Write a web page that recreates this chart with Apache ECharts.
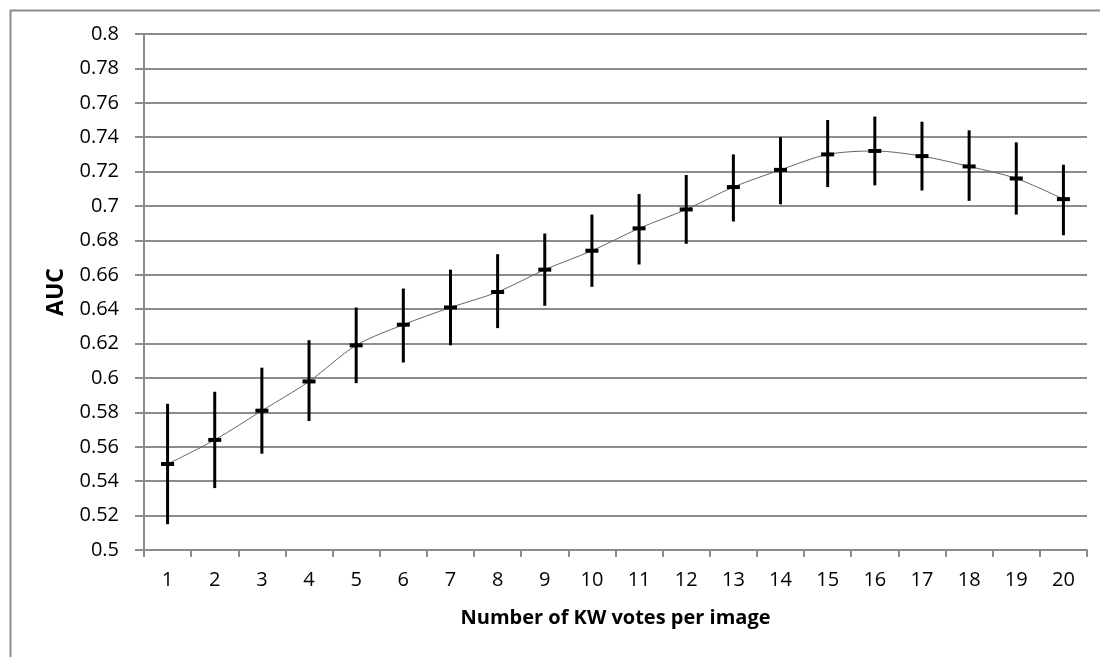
<!DOCTYPE html>
<html>
<head>
<meta charset="utf-8">
<script src="https://cdn.jsdelivr.net/npm/echarts@6/dist/echarts.min.js"></script>
<style>
  html, body { margin: 0; padding: 0; background: #fff; }
  #chart { width: 1100px; height: 657px; }
</style>
</head>
<body>
<div id="chart"></div>
<script>
// x categories
var votes = ['1','2','3','4','5','6','7','8','9','10','11','12','13','14','15','16','17','18','19','20'];
// mean AUC
var auc = [0.550,0.564,0.581,0.598,0.619,0.631,0.641,0.650,0.663,0.674,0.687,0.698,0.711,0.721,0.730,0.732,0.729,0.723,0.716,0.704];
// error bar ends
var aucLow = [0.515,0.536,0.556,0.575,0.597,0.609,0.619,0.629,0.642,0.653,0.666,0.678,0.691,0.701,0.711,0.712,0.709,0.703,0.695,0.683];
var aucHigh = [0.585,0.592,0.606,0.622,0.641,0.652,0.663,0.672,0.684,0.695,0.707,0.718,0.730,0.740,0.750,0.752,0.749,0.744,0.737,0.724];

var chart = echarts.init(document.getElementById('chart'));

var errData = votes.map(function (v, i) { return [i, aucLow[i], aucHigh[i]]; });

var font = 'Open Sans';

chart.setOption({
  animation: false,
  backgroundColor: '#fff',
  textStyle: { fontFamily: font },
  graphic: [{
    type: 'rect',
    left: 8, top: 8,
    shape: { width: 1200, height: 800 },
    style: { fill: 'none', stroke: '#8c8c8c', lineWidth: 2 },
    z: 0
  }],
  grid: { left: 144, right: 13, top: 34, bottom: 107 },
  xAxis: {
    type: 'category',
    data: votes,
    boundaryGap: true,
    name: 'Number of KW votes per image',
    nameLocation: 'middle',
    nameGap: 58,
    nameTextStyle: { fontFamily: font, fontSize: 20, fontWeight: 'bold', color: '#000' },
    axisLine: { lineStyle: { color: '#8c8c8c', width: 2 } },
    axisTick: { show: true, length: 7, lineStyle: { color: '#8c8c8c', width: 2 } },
    axisLabel: { fontFamily: font, fontSize: 20, color: '#000', margin: 20 },
    splitLine: { show: false }
  },
  yAxis: {
    type: 'value',
    min: 0.5, max: 0.8, interval: 0.02,
    name: 'AUC',
    nameLocation: 'middle',
    nameGap: 76,
    nameTextStyle: { fontFamily: font, fontSize: 23, fontWeight: 'bold', color: '#000' },
    axisLine: { show: true, lineStyle: { color: '#8c8c8c', width: 2 } },
    axisTick: { show: true, length: 9, lineStyle: { color: '#8c8c8c', width: 2 } },
    axisLabel: {
      fontFamily: font, fontSize: 20, color: '#000', margin: 25,
      formatter: function (v) { return String(parseFloat(v.toFixed(2))); }
    },
    splitLine: { lineStyle: { color: '#8c8c8c', width: 2 } }
  },
  series: [
    {
      type: 'line',
      data: auc,
      smooth: 0.3,
      symbol: 'rect',
      symbolSize: [13, 4],
      itemStyle: { color: '#000' },
      lineStyle: { color: '#666', width: 1 },
      z: 3
    },
    {
      type: 'custom',
      data: errData,
      z: 4,
      renderItem: function (params, api) {
        var lo = api.coord([api.value(0), api.value(1)]);
        var hi = api.coord([api.value(0), api.value(2)]);
        return {
          type: 'line',
          shape: { x1: lo[0], y1: lo[1], x2: hi[0], y2: hi[1] },
          style: { stroke: '#000', lineWidth: 3 }
        };
      }
    }
  ]
});
</script>
</body>
</html>
